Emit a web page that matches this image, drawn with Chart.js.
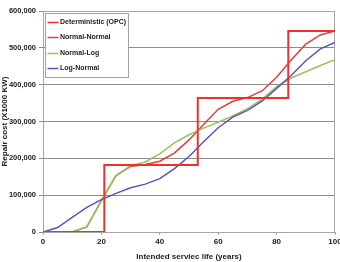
<!DOCTYPE html>
<html>
<head>
<meta charset="utf-8">
<script src="https://cdn.jsdelivr.net/npm/chart.js@4.4.0/dist/chart.umd.min.js"></script>
<style>
  html, body { margin: 0; padding: 0; background: #fff; }
  #wrap { width: 340px; height: 262px; }
</style>
</head>
<body>
<div id="wrap"><canvas id="cost-chart" width="340" height="262"></canvas></div>
<script>
// values
const years = [0, 5, 10, 15, 20, 25, 30, 35, 40, 45, 50, 55, 60, 65, 70, 75, 80, 85, 90, 95, 100];
const normalNormal = [0, 0, 0, 14000, 85000, 153000, 178000, 183000, 192000, 214000, 250000, 292000, 333000, 355000, 365000, 383000, 420000, 467000, 510000, 535000, 546000];
const normalLog = [0, 0, 0, 14000, 85000, 153000, 180000, 190000, 212000, 242000, 264000, 282000, 298000, 315000, 335000, 360000, 395000, 418000, 435000, 452000, 468000];
const logNormal = [0, 12000, 40000, 67000, 88000, 105000, 120000, 130000, 145000, 172000, 205000, 245000, 283000, 312000, 330000, 355000, 390000, 425000, 465000, 497000, 515000];
// deterministic step curve (OPC)
const detYears = [0, 21, 21, 53, 53, 84, 84, 100];
const detCost = [0, 0, 182000, 182000, 364000, 364000, 546000, 546000];

const seriesNames = ["Deterministic (OPC)", "Normal-Normal", "Normal-Log", "Log-Normal"];
const yTicks = [0, 100000, 200000, 300000, 400000, 500000, 600000];
const xTicks = [0, 20, 40, 60, 80, 100];

function toPoints(xs, ys) {
  return xs.map((x, i) => ({ x: x, y: ys[i] }));
}

const font = "'Liberation Sans', Arial, sans-serif";

// legend in a white box with grey frame, top left inside the plot
const boxLegend = {
  id: "boxLegend",
  afterDraw(chart) {
    const ctx = chart.ctx;
    const a = chart.chartArea;
    const sets = chart.data.datasets;
    const x0 = a.left + 2.5, y0 = a.top + 2.5;
    const w = 83, h = 64;
    ctx.save();
    ctx.fillStyle = "#fff";
    ctx.fillRect(x0, y0, w, h);
    ctx.strokeStyle = "#a0a0a0";
    ctx.lineWidth = 1;
    ctx.strokeRect(x0, y0, w, h);
    ctx.font = "bold 7px " + font;
    ctx.textBaseline = "middle";
    ctx.fillStyle = "#222";
    sets.forEach((ds, i) => {
      const y = Math.round(y0 + 8.5 + i * 15.3) + 0.5;
      ctx.strokeStyle = ds.borderColor;
      ctx.lineWidth = 1.5;
      ctx.beginPath();
      ctx.moveTo(x0 + 2, y);
      ctx.lineTo(x0 + 13, y);
      ctx.stroke();
      ctx.fillText(ds.label, x0 + 14.5, y);
    });
    ctx.restore();
  }
};

// plot frame: top and right edge
const frame = {
  id: "frame",
  beforeDatasetsDraw(chart) {
    const a = chart.chartArea;
    const ctx = chart.ctx;
    ctx.save();
    ctx.strokeStyle = "#a6a6a6";
    ctx.lineWidth = 1;
    ctx.beginPath();
    ctx.moveTo(a.left, a.top + 0.5);
    ctx.lineTo(a.right - 0.5, a.top + 0.5);
    ctx.lineTo(a.right - 0.5, a.bottom);
    ctx.stroke();
    ctx.restore();
  }
};

const context = document.querySelector("#cost-chart").getContext("2d");
const costChart = new Chart(context, {
  type: "line",
  data: {
    datasets: [
      {
        label: seriesNames[0],
        data: toPoints(detYears, detCost),
        borderColor: "#f2302b",
        backgroundColor: "#f2302b",
        borderWidth: 2,
        order: 0
      },
      {
        label: seriesNames[1],
        data: toPoints(years, normalNormal),
        borderColor: "#d9413b",
        backgroundColor: "#d9413b",
        borderWidth: 1.5,
        order: 3
      },
      {
        label: seriesNames[2],
        data: toPoints(years, normalLog),
        borderColor: "#97c35c",
        backgroundColor: "#97c35c",
        borderWidth: 1.5,
        order: 2
      },
      {
        label: seriesNames[3],
        data: toPoints(years, logNormal),
        borderColor: "#5d52ba",
        backgroundColor: "#5d52ba",
        borderWidth: 1.5,
        order: 1
      }
    ]
  },
  options: {
    responsive: false,
    animation: false,
    events: [],
    layout: { padding: { top: 11, right: 0, left: 0, bottom: 0 } },
    elements: {
      point: { radius: 0 },
      line: { tension: 0, fill: false }
    },
    scales: {
      x: {
        type: "linear",
        min: 0,
        max: 100,
        afterBuildTicks(scale) {
          scale.ticks = xTicks.map(v => ({ value: v }));
        },
        afterFit(scale) {
          scale.height = 30;
          scale.paddingRight = 5;
          scale.paddingLeft = 0;
        },
        grid: { display: true, drawOnChartArea: false, tickLength: 3, color: "#a6a6a6" },
        border: { color: "#a6a6a6" },
        ticks: {
          color: "#222",
          padding: 2,
          maxRotation: 0,
          font: { family: font, size: 8, weight: "bold" }
        },
        title: {
          display: true,
          text: "Intended serviec life (years)",
          color: "#222",
          padding: { top: 1, bottom: 0 },
          font: { family: font, size: 8, weight: "bold" }
        }
      },
      y: {
        min: 0,
        max: 600000,
        afterBuildTicks(scale) {
          scale.ticks = yTicks.map(v => ({ value: v }));
        },
        afterFit(scale) {
          scale.width = 43;
          scale.paddingTop = 0;
        },
        grid: { color: "#8c8c8c", tickLength: 4, lineWidth: 1 },
        border: { color: "#a6a6a6" },
        ticks: {
          color: "#222",
          padding: 3,
          font: { family: font, size: 7.5, weight: "bold" }
        },
        title: {
          display: true,
          text: "Repair cost (X1000 KW)",
          color: "#222",
          padding: { top: 0, bottom: 0 },
          font: { family: font, size: 8, weight: "bold" }
        }
      }
    },
    plugins: {
      title: { display: false },
      tooltip: { enabled: false },
      legend: { display: false }
    }
  },
  plugins: [frame, boxLegend]
});
</script>
</body>
</html>
